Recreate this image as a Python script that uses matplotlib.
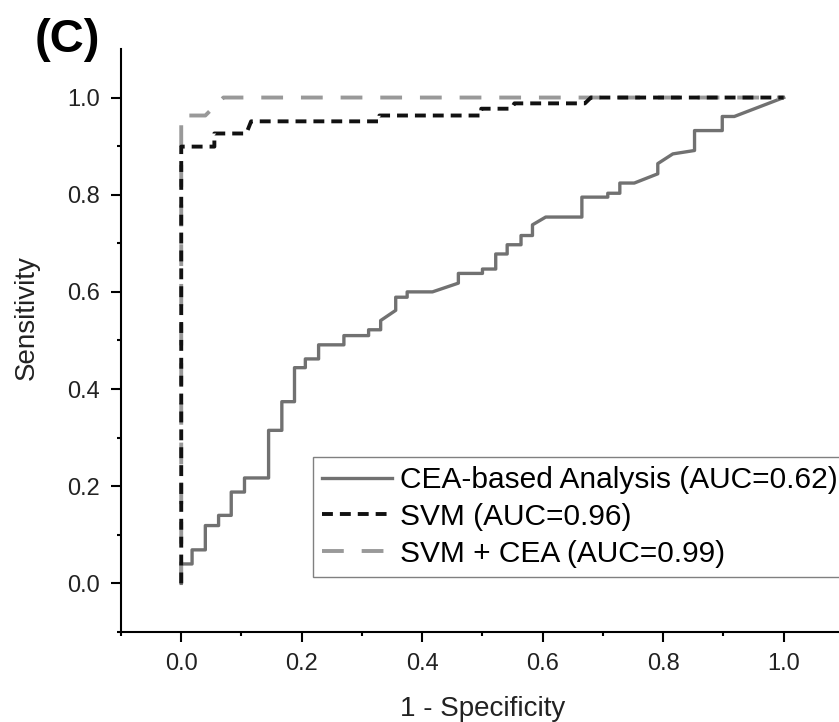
# ROC curves for panel (C): CEA-based analysis vs SVM vs SVM + CEA

import numpy as np
import matplotlib
matplotlib.use('Agg')
import matplotlib.pyplot as plt

plt.rcParams['font.family'] = ['Liberation Sans', 'DejaVu Sans']

# ROC points (1 - specificity, sensitivity)
cea_fpr = [0.0, 0.0, 0.018, 0.018, 0.040, 0.040, 0.062, 0.062, 0.083, 0.083,
           0.105, 0.105, 0.145, 0.145, 0.167, 0.167, 0.188, 0.188, 0.206, 0.206,
           0.228, 0.228, 0.270, 0.270, 0.311, 0.311, 0.331, 0.331, 0.356, 0.356,
           0.375, 0.375, 0.417, 0.460, 0.460, 0.500, 0.500, 0.522, 0.522, 0.541,
           0.541, 0.564, 0.564, 0.583, 0.583, 0.605, 0.665, 0.665, 0.708, 0.708,
           0.728, 0.728, 0.752, 0.791, 0.791, 0.816, 0.852, 0.852, 0.898, 0.898,
           0.918, 1.0]
cea_tpr = [0.0, 0.040, 0.040, 0.069, 0.069, 0.119, 0.119, 0.140, 0.140, 0.188,
           0.188, 0.217, 0.217, 0.315, 0.315, 0.374, 0.374, 0.444, 0.444, 0.462,
           0.462, 0.491, 0.491, 0.510, 0.510, 0.522, 0.522, 0.541, 0.562, 0.589,
           0.589, 0.600, 0.600, 0.618, 0.638, 0.638, 0.647, 0.647, 0.678, 0.678,
           0.697, 0.697, 0.716, 0.716, 0.738, 0.754, 0.754, 0.795, 0.795, 0.803,
           0.803, 0.824, 0.824, 0.843, 0.864, 0.884, 0.891, 0.932, 0.932, 0.961,
           0.961, 1.0]

svm_fpr = [0.0, 0.0, 0.055, 0.055, 0.108, 0.116, 0.329, 0.329, 0.498, 0.498,
           0.548, 0.553, 0.670, 0.680, 1.0]
svm_tpr = [0.0, 0.899, 0.899, 0.926, 0.926, 0.951, 0.951, 0.963, 0.963, 0.977,
           0.977, 0.988, 0.988, 1.0, 1.0]

comb_fpr = [0.0, 0.0, 0.040, 0.070, 1.0]
comb_tpr = [0.0, 0.963, 0.963, 1.0, 1.0]

labels = ['CEA-based Analysis (AUC=0.62)', 'SVM (AUC=0.96)', 'SVM + CEA (AUC=0.99)']

fig = plt.figure(figsize=(8.39, 7.22), dpi=100)
ax = fig.add_axes([0.1442, 0.1247, 0.8617, 0.8075])

l1, = ax.plot(cea_fpr, cea_tpr, color='#717171', lw=2.4, zorder=2)
l3, = ax.plot(comb_fpr, comb_tpr, color='#999999', lw=2.8, dashes=(5.6, 4.6), zorder=3)
l2, = ax.plot(svm_fpr, svm_tpr, color='#111111', lw=2.8, dashes=(2.8, 1.8), zorder=4)

ax.set_xlim(-0.1, 1.1)
ax.set_ylim(-0.1, 1.1)
ax.set_xticks(np.arange(0, 1.01, 0.2))
ax.set_yticks(np.arange(0, 1.01, 0.2))
ax.set_xticks(np.arange(-0.1, 1.01, 0.2), minor=True)
ax.set_yticks(np.arange(-0.1, 1.01, 0.2), minor=True)
ax.xaxis.set_major_formatter(matplotlib.ticker.FormatStrFormatter('%.1f'))
ax.yaxis.set_major_formatter(matplotlib.ticker.FormatStrFormatter('%.1f'))

for s in ['top', 'right']:
    ax.spines[s].set_visible(False)
for s in ['left', 'bottom']:
    ax.spines[s].set_linewidth(1.5)
ax.tick_params(which='major', direction='out', length=7, width=1.5, labelsize=17, pad=8,
               labelcolor='#222222')
ax.tick_params(which='minor', direction='out', length=3, width=1.5)

ax.set_xlabel('1 - Specificity', fontsize=20, labelpad=15, color='#222222')
ax.set_ylabel('Sensitivity', fontsize=20, color='#222222')
ax.yaxis.set_label_coords(-0.113, 0.54)

leg = ax.legend([l1, l2, l3], labels, loc='upper left',
                bbox_to_anchor=(313 / 839, 1 - 457 / 722), bbox_transform=fig.transFigure,
                fontsize=21.5, handlelength=2.35, handletextpad=0.27, borderpad=0.3,
                labelspacing=0.3, borderaxespad=0, fancybox=False, framealpha=1)
leg.get_frame().set_edgecolor('#808080')
leg.get_frame().set_linewidth(1.0)

fig.text(67 / 839, 1 - 40 / 722, '(C)', fontsize=34, fontweight='bold', ha='center', va='center')

fig.savefig('out.png', dpi=100)
